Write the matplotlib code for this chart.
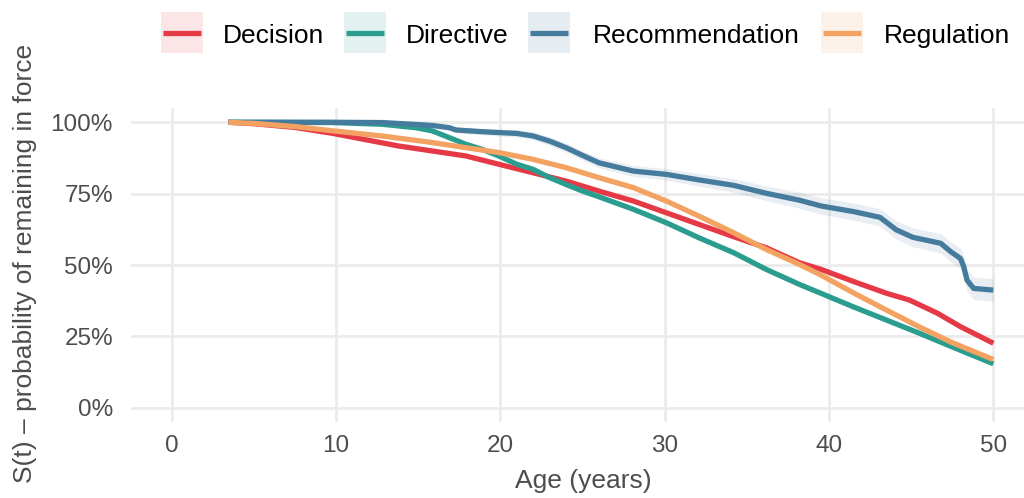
import matplotlib
matplotlib.use("Agg")
import matplotlib.pyplot as plt
from matplotlib.patches import Rectangle
from matplotlib.lines import Line2D
from matplotlib.ticker import FuncFormatter
import numpy as np

plt.rcParams['font.family'] = ['Liberation Sans', 'DejaVu Sans']

# ---- data ----
categories = ["Decision", "Directive", "Recommendation", "Regulation"]
colors = ["#E63946", "#2A9D8F", "#457B9D", "#F4A261"]

dec_t = [3.45, 5, 7.5, 9.8, 13.8, 17.9, 19.9, 22.0, 24.0, 26.0, 28.1, 30.1, 32.1, 34.2,
         36.2, 38.2, 39.5, 41.5, 43.5, 44.9, 46.6, 48.0, 50.0]
dec_s = [100, 99.5, 98.2, 96.1, 91.7, 88.2, 85.3, 82.3, 79.4, 75.9, 72.4, 68.3, 64.2, 59.9,
         56.0, 50.8, 48.5, 44.2, 40.1, 37.7, 33.1, 28.4, 22.6]

dir_t = [3.45, 9.8, 12.8, 14.85, 15.85, 16.9, 17.9, 18.9, 19.9, 21.0, 22.0, 23.0, 24.0,
         25.0, 26.0, 28.1, 30.1, 32.1, 34.2, 36.2, 38.2, 39.5, 41.5, 43.5, 45.5, 47.5, 50.0]
dir_s = [100, 99.9, 99.3, 98.1, 97.0, 94.6, 92.3, 90.5, 88.2, 85.3, 83.5, 80.6, 78.2,
         75.9, 73.9, 69.5, 64.8, 59.5, 54.3, 48.4, 43.2, 40.1, 35.3, 30.7, 26.1, 21.3, 15.4]

rec_t = [3.45, 9.8, 12.8, 15.85, 16.9, 17.3, 18.9, 19.9, 21.0, 22.0, 23.0, 24.0, 25.0,
         26.0, 28.1, 30.1, 32.1, 34.2, 36.2, 38.2, 39.5, 41.5, 43.1, 44.1, 45.1, 46.8,
         47.4, 48.0, 48.2, 48.4, 48.8, 50.0]
rec_s = [100, 100, 99.9, 98.9, 98.1, 97.3, 96.7, 96.4, 96.1, 95.2, 93.4, 91.1, 88.4,
         85.8, 82.9, 81.75, 79.8, 77.9, 75.1, 72.7, 70.7, 68.7, 66.7, 62.3, 59.7, 57.6,
         54.7, 52.3, 49.4, 44.7, 41.8, 41.2]
rec_ci = [0.0, 0.2, 0.4, 0.8, 0.9, 1.0, 1.1, 1.2, 1.3, 1.4, 1.5, 1.6, 1.7,
          1.8, 1.9, 2.0, 2.2, 2.4, 2.6, 2.8, 2.9, 3.0, 3.1, 3.2, 3.3, 3.4,
          3.5, 3.6, 3.7, 3.8, 3.9, 4.0]

reg_t = [3.45, 5, 7.5, 9.8, 12.8, 15.85, 17.9, 19.9, 22.0, 24.0, 26.0, 28.1, 30.1, 32.1,
         34.2, 36.2, 38.2, 39.5, 41.5, 43.5, 45.5, 47.5, 50.0]
reg_s = [100, 99.6, 98.5, 97.0, 95.2, 92.9, 91.1, 89.4, 87.0, 84.1, 80.6, 77.1, 72.4, 67.1,
         61.3, 55.4, 50.2, 46.5, 40.2, 34.2, 28.3, 22.8, 16.9]

other_ci = 0.6

x_ticks = [0, 10, 20, 30, 40, 50]
y_ticks = [0, 25, 50, 75, 100]

W, H = 1024, 498
TICK_FS = 17.5
TITLE_FS = 19
LEG_FS = 19
GRAY = "#4D4D4D"

# ---- figure ----
fig = plt.figure(figsize=(W / 100, H / 100), dpi=100)
ax = fig.add_axes([130.6 / W, 1 - 422 / H, (1034.4 - 130.6) / W, (422 - 108) / H])

series = [(dec_t, dec_s, None), (dir_t, dir_s, None), (rec_t, rec_s, rec_ci), (reg_t, reg_s, None)]
for (t, s, ci), c in zip(series, colors):
    t = np.array(t); s = np.array(s) / 100
    half = np.full_like(s, other_ci / 100) if ci is None else np.array(ci) / 100
    ax.fill_between(t, np.clip(s - half, 0, 1), np.clip(s + half, 0, 1), color=c,
                    alpha=0.12, lw=0, zorder=2)
for (t, s, ci), c in zip(series, colors):
    ax.plot(t, np.array(s) / 100, color=c, lw=3.8, solid_capstyle='butt',
            solid_joinstyle='round', zorder=3)

ax.set_xlim(-2.5, 52.5)
ax.set_ylim(-0.05, 1.05)
ax.set_xticks(x_ticks)
ax.set_yticks([v / 100 for v in y_ticks])
ax.yaxis.set_major_formatter(FuncFormatter(lambda v, p: f"{v*100:.0f}%"))
ax.grid(True, color="#EBEBEB", lw=2.0)
ax.set_axisbelow(True)
for sp in ax.spines.values():
    sp.set_visible(False)
ax.tick_params(length=0, labelsize=TICK_FS, labelcolor=GRAY)
ax.tick_params(axis='x', pad=9)
ax.tick_params(axis='y', pad=12.7)

# axis titles
fig.text(583 / W, 1 - 488.3 / H, "Age (years)", fontsize=TITLE_FS, color=GRAY,
         ha='center', va='baseline')
fig.text(32.3 / W, 1 - 263 / H, "S(t) \u2013 probability of remaining in force",
         fontsize=TITLE_FS, color=GRAY, rotation=90, rotation_mode='anchor',
         ha='center', va='baseline')

# legend (top, horizontal): key boxes with ribbon fill + line, then label
key_left = [161, 344, 528, 821]
text_left = [223, 406, 593, 884]
key_w, key_top, key_bot = 42, 12, 53
for c, lab, kx, tx in zip(colors, categories, key_left, text_left):
    fig.add_artist(Rectangle((kx / W, 1 - key_bot / H), key_w / W, (key_bot - key_top) / H,
                             transform=fig.transFigure, facecolor=c, alpha=0.13,
                             edgecolor='none'))
    fig.add_artist(Line2D([(kx + 2) / W, (kx + key_w - 2) / W], [1 - 33.3 / H] * 2,
                          transform=fig.transFigure, color=c, lw=3.8,
                          solid_capstyle='butt'))
    fig.text(tx / W, 1 - 43.3 / H, lab, fontsize=LEG_FS, color="black",
             ha='left', va='baseline')

fig.savefig("out.png", dpi=100)
